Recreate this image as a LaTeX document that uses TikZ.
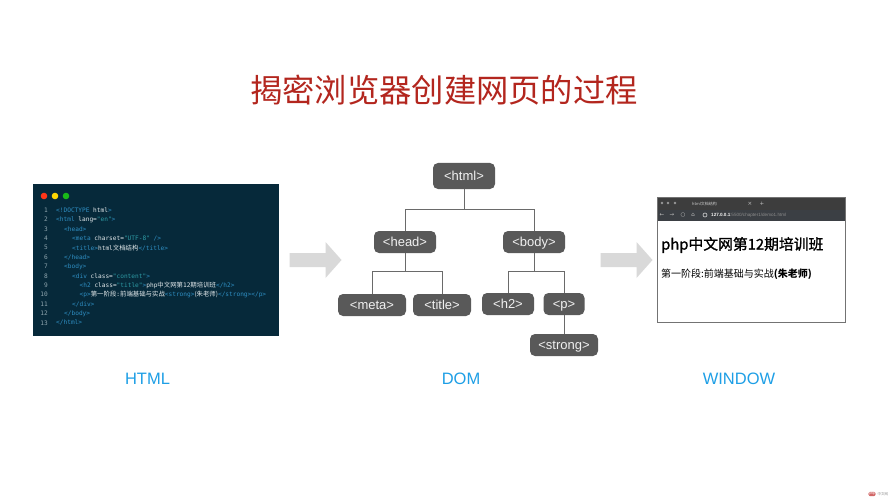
\documentclass[tikz,border=0pt]{standalone}
\usepackage{xcolor}
\usepackage{fontspec}
\setmainfont{Liberation Sans}
\setmonofont{DejaVu Sans Mono}
\newfontfamily\cjk{Noto Sans CJK SC}
\newfontfamily\cjkmed[FakeBold=1.2]{Noto Sans CJK SC}
\newfontfamily\symb{DejaVu Sans}
\definecolor{panelbg}{HTML}{06293A}
\definecolor{tagcol}{HTML}{2F8FC4}
\definecolor{strcol}{HTML}{2E9CA6}
\definecolor{txtcol}{HTML}{E4EAEC}
\definecolor{numcol}{HTML}{8FA5AE}
\definecolor{boxcol}{HTML}{595959}
\definecolor{linecol}{HTML}{6A6A6A}
\definecolor{arrcol}{HTML}{D9D9D9}
\definecolor{titlecol}{HTML}{B3261E}
\definecolor{labcol}{HTML}{1E9FE6}
\newcommand{\tg}[1]{\textcolor{tagcol}{#1}}
\newcommand{\st}[1]{\textcolor{strcol}{#1}}
\newcommand{\zh}[1]{{\cjk\fontsize{6.4}{7}\selectfont #1}}
\tikzset{
  domnode/.style={fill=boxcol,rounded corners=5pt,text=black!6,minimum height=22pt,inner sep=0pt,text height=9pt,text depth=.5pt,font=\fontsize{13}{14}\selectfont},
  domline/.style={draw=linecol,line width=.9pt},
  biglabel/.style={text=labcol,font=\fontsize{16.5}{17}\selectfont,inner sep=0pt},
  codeline/.style={anchor=west,inner sep=0pt,text=txtcol,font=\ttfamily\fontsize{6.15}{7}\selectfont},
  numline/.style={anchor=east,inner sep=0pt,text=numcol,font=\ttfamily\fontsize{6.15}{7}\selectfont},
  bigarrow/.style={fill=arrcol,draw=none},
  chromeicon/.style={inner sep=0pt,text=black!25,font=\symb\fontsize{5.5}{6}\selectfont},
}
\begin{document}
\begin{tikzpicture}[x=1pt,y=-1pt]
    \useasboundingbox (0,0) rectangle (889,500);
    \fill[white] (0,0) rectangle (889,500);
    \node[text=titlecol,inner sep=0pt,font=\cjk\fontsize{32.3}{34}\selectfont] (maintitle) at (444,90) {揭密浏览器创建网页的过程};

    % code panel
    \fill[panelbg] (33,184) rectangle (279,336);
    \fill[red!75!orange!90!white] (44,196) circle (3.3);
    \fill[yellow!75!orange] (55,196) circle (3.3);
    \fill[green!70!black!90!white] (66,196) circle (3.3);
    \foreach \n in {1,...,13}
        \node[numline] (num\n) at (48,{200.6+\n*9.4}) {\n};
    \node[codeline] (c1) at (56,210) {\tg{<!DOCTYPE} html\tg{>}};
    \node[codeline] (c2) at (56,219.4) {\tg{<html} lang=\st{"en"}\tg{>}};
    \node[codeline] (c3) at (64,228.8) {\tg{<head>}};
    \node[codeline] (c4) at (72,238.2) {\tg{<meta} charset=\st{"UTF-8"} \tg{/>}};
    \node[codeline] (c5) at (72,247.6) {\tg{<title>}html\zh{文档结构}\tg{</title>}};
    \node[codeline] (c6) at (64,257) {\tg{</head>}};
    \node[codeline] (c7) at (64,266.4) {\tg{<body>}};
    \node[codeline] (c8) at (72,275.8) {\tg{<div} class=\st{"content"}\tg{>}};
    \node[codeline] (c9) at (79.5,285.2) {\tg{<h2} class=\st{"title"}\tg{>}php\zh{中文网第}12\zh{期培训班}\tg{</h2>}};
    \node[codeline] (c10) at (79.5,294.6) {\tg{<p>}\zh{第一阶段}:\zh{前端基础与实战}\tg{<strong>}\zh{(朱老师)}\tg{</strong></p>}};
    \node[codeline] (c11) at (72,304) {\tg{</div>}};
    \node[codeline] (c12) at (64,313.4) {\tg{</body>}};
    \node[codeline] (c13) at (56,322.8) {\tg{</html>}};

    % grey arrows
    \fill[bigarrow] (289.5,253) -- (325.5,253) -- (325.5,242) -- (341.5,260) -- (325.5,278) -- (325.5,267) -- (289.5,267) -- cycle;
    \fill[bigarrow] (600.5,253) -- (636.5,253) -- (636.5,242) -- (652.5,260) -- (636.5,278) -- (636.5,267) -- (600.5,267) -- cycle;

    % dom tree
    \node[domnode,minimum width=62pt,minimum height=26pt] (html) at (464,176) {<html>};
    \node[domnode,minimum width=62pt] (head) at (405,242) {<head>};
    \node[domnode,minimum width=62pt] (body) at (534,242) {<body>};
    \node[domnode,minimum width=68pt] (meta) at (372,305) {<meta>};
    \node[domnode,minimum width=58pt] (titletag) at (442,305) {<title>};
    \node[domnode,minimum width=52pt] (htwo) at (508,304) {<h2>};
    \node[domnode,minimum width=41pt] (ptag) at (564,304) {<p>};
    \node[domnode,minimum width=68pt] (strong) at (564,345) {<strong>};
    \coordinate (htmlbus) at (464,209);
    \coordinate (headbus) at (405,271);
    \coordinate (bodybus) at (534,271);
    \draw[domline] (html) -- (htmlbus);
    \draw[domline] (htmlbus) -| (head);
    \draw[domline] (htmlbus) -| (body);
    \draw[domline] (head) -- (headbus);
    \draw[domline] (headbus) -| (meta);
    \draw[domline] (headbus) -| (titletag);
    \draw[domline] (body) -- (bodybus);
    \draw[domline] (bodybus) -| (htwo);
    \draw[domline] (bodybus) -| (ptag);
    \draw[domline] (ptag) -- (strong);

    % browser window
    \fill[white] (657.5,197) rectangle (845.5,322);
    \fill[black!76] (657.5,197) rectangle (845.5,210);
    \fill[black!84!cyan] (657.5,210) rectangle (845.5,220.5);
    \foreach \x in {662,668,675}
        \fill[black!40] (\x,203) circle (1.3);
    \node[inner sep=0pt,text=black!20,anchor=west,font=\cjk\fontsize{4}{5}\selectfont] (tabname) at (692,203.5) {html文档结构};
    \node[chromeicon] (tabx) at (750,203.5) {×};
    \node[chromeicon] (tabplus) at (762,203.5) {+};
    \node[chromeicon] (navback) at (662,215) {←};
    \node[chromeicon] (navfwd) at (672,215) {→};
    \node[chromeicon] (navload) at (683,215) {○};
    \node[chromeicon] (navhome) at (693,215) {⌂};
    \draw[black!15,line width=.6pt] (705,215) circle (2);
    \node[inner sep=0pt,text=black!5,anchor=west,font=\bfseries\fontsize{4.6}{5}\selectfont] (urlhost) at (711,215) {127.0.0.1};
    \node[inner sep=0pt,text=black!45,anchor=west,font=\fontsize{4.6}{5}\selectfont] (urlpath) at (730,215) {:5500/chapter1/demo1.html};
    \draw[black!55,line width=1pt] (657.5,197) rectangle (845.5,322);
    \node[inner sep=0pt,anchor=west,font=\cjkmed\fontsize{14.8}{16}\selectfont] (pagehead) at (661,245) {php中文网第12期培训班};
    \node[inner sep=0pt,anchor=west,font=\cjk\fontsize{10}{12}\selectfont] (pagetext) at (661,274) {第一阶段:前端基础与实战{\bfseries(朱老师)}};

    % captions
    \node[biglabel] (lhtml) at (147.5,379) {HTML};
    \node[biglabel] (ldom) at (461,379) {DOM};
    \node[biglabel] (lwin) at (739,379) {WINDOW};

    % watermark
    \node[fill=red!70!black!60!white,rounded corners=2pt,inner sep=.6pt,text=white,font=\fontsize{3.5}{4}\selectfont] (wmark) at (872,494) {php};
    \node[anchor=west,inner sep=0pt,text=black!45,font=\cjk\fontsize{3.5}{4}\selectfont] (wtext) at (877.5,494) {中文网};
\end{tikzpicture}
\end{document}
